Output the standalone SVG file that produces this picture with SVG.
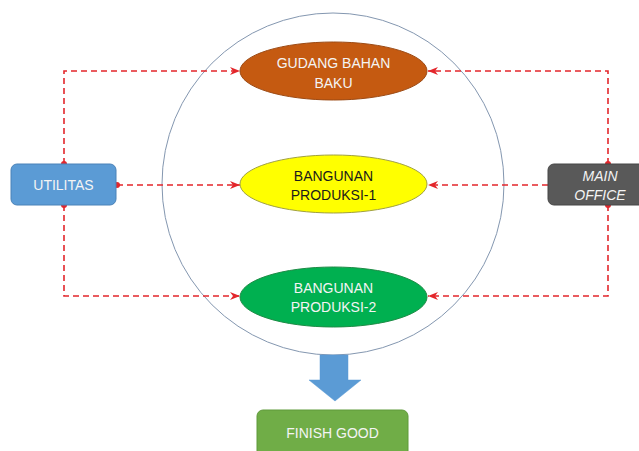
<svg xmlns="http://www.w3.org/2000/svg" width="639" height="451" viewBox="0 0 639 451">
  <defs>
    <style>
      .lbl { font-family: "Liberation Sans", Arial, sans-serif; font-size: 14px; text-anchor: middle; }
      .light { fill: #F4F4F4; }
      .dark { fill: #1A1A1A; }
      .flow { fill: none; stroke: #E3262B; stroke-width: 1.6; stroke-dasharray: 6 4; }
      .dot { fill: #E3262B; }
    </style>
    <marker id="head" viewBox="0 0 10 8" refX="10" refY="4" markerWidth="10" markerHeight="8" markerUnits="userSpaceOnUse" orient="auto">
      <path d="M0,0 L10,4 L0,8 L3,4 Z" fill="#E3262B"/>
    </marker>
  </defs>

  <rect width="639" height="451" fill="#FFFFFF"/>

  <!-- production area boundary -->
  <circle id="area" cx="333" cy="184" r="171" fill="none" stroke="#8497B0" stroke-width="1"/>

  <!-- connectors -->
  <g id="connectors">
    <path class="flow" d="M64,164 V71 H240" marker-end="url(#head)"/>
    <path class="flow" d="M117,185 H240" marker-end="url(#head)"/>
    <path class="flow" d="M64,205 V296 H240" marker-end="url(#head)"/>
    <path class="flow" d="M608,164 V71 H428" marker-end="url(#head)"/>
    <path class="flow" d="M548,185 H428" marker-end="url(#head)"/>
    <path class="flow" d="M608,205 V296 H428" marker-end="url(#head)"/>
    <circle class="dot" cx="64" cy="164" r="3"/>
    <circle class="dot" cx="64" cy="205" r="3"/>
    <circle class="dot" cx="117" cy="185" r="3"/>
    <circle class="dot" cx="608" cy="164" r="3"/>
    <circle class="dot" cx="608" cy="205" r="3"/>
    <!-- output arrow -->
    <path d="M320,355 H348 V380 H361 L335,401 L309,380 H320 Z" fill="#5B9BD5" stroke="#5B9BD5" stroke-width="0.5"/>
  </g>

  <g id="gudang">
    <ellipse cx="333.5" cy="71" rx="93.5" ry="29" fill="#C55A11" stroke="#9C4A14" stroke-width="1"/>
    <text class="lbl light" x="333.5" y="68">GUDANG BAHAN</text>
    <text class="lbl light" x="333.5" y="88">BAKU</text>
  </g>

  <g id="produksi1">
    <ellipse cx="333.5" cy="184" rx="93.5" ry="29" fill="#FFFF00" stroke="#A0A040" stroke-width="1"/>
    <text class="lbl dark" x="333.5" y="181">BANGUNAN</text>
    <text class="lbl dark" x="333.5" y="200">PRODUKSI-1</text>
  </g>

  <g id="produksi2">
    <ellipse cx="333.5" cy="297" rx="93.5" ry="30" fill="#00B050" stroke="#1E8C46" stroke-width="1"/>
    <text class="lbl light" x="333.5" y="293">BANGUNAN</text>
    <text class="lbl light" x="333.5" y="312">PRODUKSI-2</text>
  </g>

  <g id="utilitas">
    <rect x="11" y="164" width="105" height="41" rx="6" fill="#5B9BD5" stroke="#4A82B8" stroke-width="1"/>
    <text class="lbl light" x="63.5" y="190">UTILITAS</text>
  </g>

  <g id="main-office">
    <rect x="548" y="164" width="106" height="41" rx="6" fill="#595959" stroke="#474747" stroke-width="1"/>
    <text class="lbl light" x="600" y="181" font-style="italic">MAIN</text>
    <text class="lbl light" x="600" y="200" font-style="italic">OFFICE</text>
  </g>

  <g id="finish-good">
    <rect x="257" y="410" width="151" height="50" rx="6" fill="#70AD47" stroke="#5F9A3A" stroke-width="1"/>
    <text class="lbl light" x="332.5" y="438">FINISH GOOD</text>
  </g>
</svg>
